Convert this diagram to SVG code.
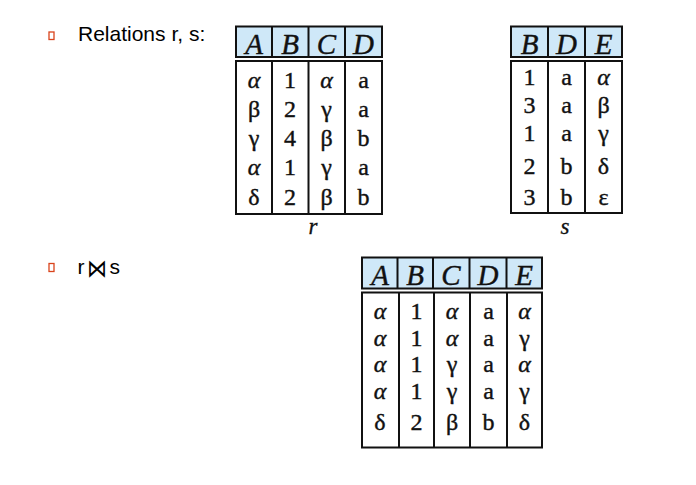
<svg xmlns="http://www.w3.org/2000/svg" width="696" height="485" viewBox="0 0 696 485">
<style>
.bul{fill:none;stroke:#d9441c;stroke-width:1.3}
.lbl{font-family:"Liberation Sans",Arial,sans-serif;font-size:21px;fill:#000}
.hd{fill:#cfe8f8;stroke:#111;stroke-width:2}
.bd{fill:#fff;stroke:#111;stroke-width:2}
.dv{stroke:#111;stroke-width:2}
.ht{font-family:"Liberation Serif","Times New Roman",serif;font-style:italic;font-size:29px;fill:#111;stroke:#111;stroke-width:0.4;text-anchor:middle}
.ct{font-family:"Liberation Serif","Times New Roman",serif;font-size:24px;fill:#111;stroke:#111;stroke-width:0.4;text-anchor:middle}
.it{font-style:italic}
.nm{font-family:"Liberation Serif","Times New Roman",serif;font-style:italic;font-size:23px;fill:#111;stroke:#111;stroke-width:0.3;text-anchor:middle}
</style>
<rect width="696" height="485" fill="#fff"/>
<g id="bullet1">
<rect class="bul" x="49" y="32" width="5" height="7.5"/>
<text class="lbl" x="78" y="41">Relations r, s:</text>
</g>
<g id="bullet2">
<rect class="bul" x="49" y="263.5" width="5" height="8"/>
<text class="lbl" x="77.5" y="273.5">r</text>
<text transform="translate(97.3 276.5) scale(0.8 1)" style="font-family:'DejaVu Sans',sans-serif;font-weight:200;font-size:25px;fill:#000;text-anchor:middle">⋈</text>
<text class="lbl" x="109.5" y="273.5">s</text>
</g>
<g id="table-r">
<rect class="hd" x="236" y="26.5" width="146" height="30.5"/>
<line class="dv" x1="272" y1="26.5" x2="272" y2="57"/>
<line class="dv" x1="308.5" y1="26.5" x2="308.5" y2="57"/>
<line class="dv" x1="345" y1="26.5" x2="345" y2="57"/>
<text class="ht" x="254" y="53.5">A</text>
<text class="ht" x="290" y="53.5">B</text>
<text class="ht" x="326.5" y="53.5">C</text>
<text class="ht" x="363.5" y="53.5">D</text>
<rect class="bd" x="236" y="61" width="146" height="153"/>
<line class="dv" x1="272" y1="61" x2="272" y2="214"/>
<line class="dv" x1="308.5" y1="61" x2="308.5" y2="214"/>
<line class="dv" x1="345" y1="61" x2="345" y2="214"/>
<text class="ct" y="87.5"><tspan class="it" x="254">α</tspan><tspan x="290">1</tspan><tspan class="it" x="326.5">α</tspan><tspan x="363.5">a</tspan></text>
<text class="ct" y="116.5"><tspan x="254">β</tspan><tspan x="290">2</tspan><tspan x="326.5">γ</tspan><tspan x="363.5">a</tspan></text>
<text class="ct" y="145.5"><tspan x="254">γ</tspan><tspan x="290">4</tspan><tspan x="326.5">β</tspan><tspan x="363.5">b</tspan></text>
<text class="ct" y="175"><tspan class="it" x="254">α</tspan><tspan x="290">1</tspan><tspan x="326.5">γ</tspan><tspan x="363.5">a</tspan></text>
<text class="ct" y="205"><tspan x="254">δ</tspan><tspan x="290">2</tspan><tspan x="326.5">β</tspan><tspan x="363.5">b</tspan></text>
<text class="nm" x="313" y="234">r</text>
</g>
<g id="table-s">
<rect class="hd" x="511" y="26.5" width="111" height="30.5"/>
<line class="dv" x1="548" y1="26.5" x2="548" y2="57"/>
<line class="dv" x1="585" y1="26.5" x2="585" y2="57"/>
<text class="ht" x="529.5" y="53.5">B</text>
<text class="ht" x="566.5" y="53.5">D</text>
<text class="ht" x="603.5" y="53.5">E</text>
<rect class="bd" x="511" y="61" width="111" height="152"/>
<line class="dv" x1="548" y1="61" x2="548" y2="213"/>
<line class="dv" x1="585" y1="61" x2="585" y2="213"/>
<text class="ct" y="85"><tspan x="529.5">1</tspan><tspan x="566.5">a</tspan><tspan class="it" x="603.5">α</tspan></text>
<text class="ct" y="113"><tspan x="529.5">3</tspan><tspan x="566.5">a</tspan><tspan x="603.5">β</tspan></text>
<text class="ct" y="141"><tspan x="529.5">1</tspan><tspan x="566.5">a</tspan><tspan x="603.5">γ</tspan></text>
<text class="ct" y="174"><tspan x="529.5">2</tspan><tspan x="566.5">b</tspan><tspan x="603.5">δ</tspan></text>
<text class="ct" y="205"><tspan x="529.5">3</tspan><tspan x="566.5">b</tspan><tspan x="603.5">ε</tspan></text>
<text class="nm" x="565" y="234">s</text>
</g>
<g id="table-result">
<rect class="hd" x="362" y="257.5" width="180" height="31"/>
<line class="dv" x1="397.5" y1="257.5" x2="397.5" y2="288.5"/>
<line class="dv" x1="433" y1="257.5" x2="433" y2="288.5"/>
<line class="dv" x1="469.5" y1="257.5" x2="469.5" y2="288.5"/>
<line class="dv" x1="506.5" y1="257.5" x2="506.5" y2="288.5"/>
<text class="ht" x="380" y="285">A</text>
<text class="ht" x="415" y="285">B</text>
<text class="ht" x="451" y="285">C</text>
<text class="ht" x="488" y="285">D</text>
<text class="ht" x="524" y="285">E</text>
<rect class="bd" x="362" y="292.5" width="180" height="155"/>
<line class="dv" x1="399" y1="292.5" x2="399" y2="447.5"/>
<line class="dv" x1="434" y1="292.5" x2="434" y2="447.5"/>
<line class="dv" x1="470" y1="292.5" x2="470" y2="447.5"/>
<line class="dv" x1="507" y1="292.5" x2="507" y2="447.5"/>
<text class="ct" y="318.5"><tspan class="it" x="380">α</tspan><tspan x="416.5">1</tspan><tspan class="it" x="452">α</tspan><tspan x="488.5">a</tspan><tspan class="it" x="524.5">α</tspan></text>
<text class="ct" y="345.5"><tspan class="it" x="380">α</tspan><tspan x="416.5">1</tspan><tspan class="it" x="452">α</tspan><tspan x="488.5">a</tspan><tspan x="524.5">γ</tspan></text>
<text class="ct" y="372"><tspan class="it" x="380">α</tspan><tspan x="416.5">1</tspan><tspan x="452">γ</tspan><tspan x="488.5">a</tspan><tspan class="it" x="524.5">α</tspan></text>
<text class="ct" y="398.5"><tspan class="it" x="380">α</tspan><tspan x="416.5">1</tspan><tspan x="452">γ</tspan><tspan x="488.5">a</tspan><tspan x="524.5">γ</tspan></text>
<text class="ct" y="429.5"><tspan x="380">δ</tspan><tspan x="416.5">2</tspan><tspan x="452">β</tspan><tspan x="488.5">b</tspan><tspan x="524.5">δ</tspan></text>
</g>
</svg>
